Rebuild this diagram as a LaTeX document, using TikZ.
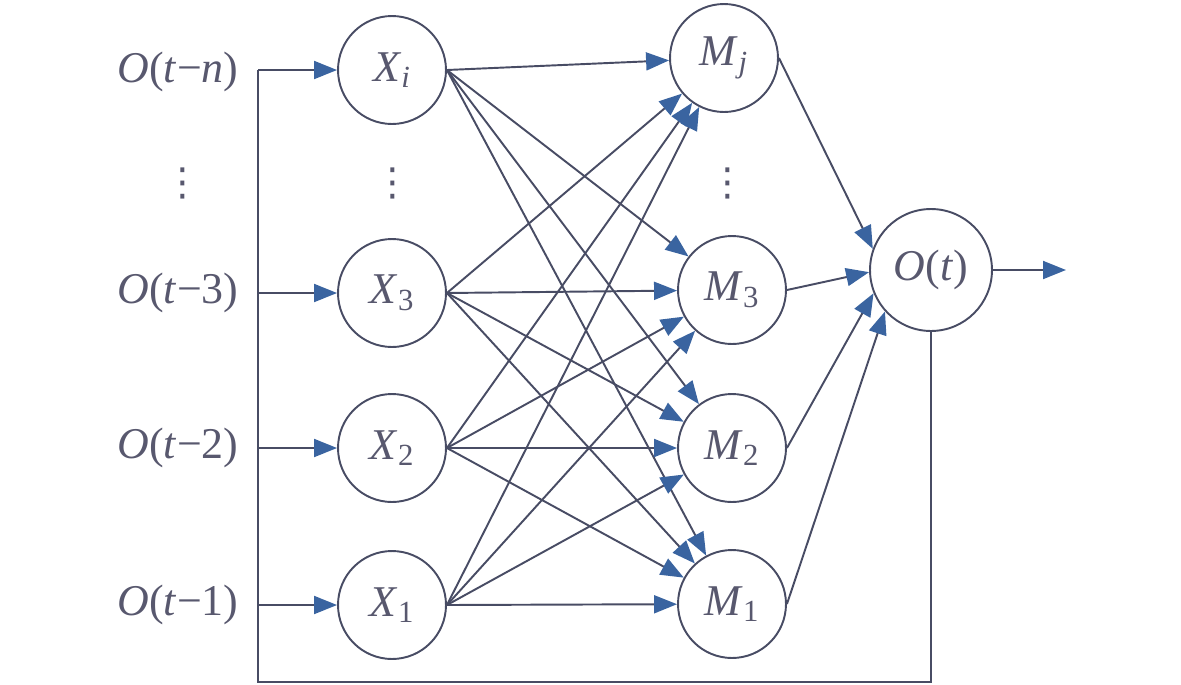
\documentclass[tikz,border=0pt]{standalone}
\usepackage{fontspec}
\setmainfont{Liberation Serif}
\newfontfamily\symfont{DejaVu Sans}
\usetikzlibrary{arrows.meta, positioning}
\definecolor{linegray}{RGB}{72,76,100}
\definecolor{tipblue}{RGB}{58,100,160}
\definecolor{textgray}{RGB}{88,88,110}

\begin{document}
\begin{tikzpicture}[x=0.02cm, y=-0.02cm]
\tikzstyle{main}=[circle, minimum size=2.16cm, inner sep=0pt, line width=1.1pt, draw=linegray, text=textgray, font=\fontsize{25}{30}\selectfont]
\tikzstyle{connect}=[-{Triangle[length=0.46cm, width=0.36cm, color=tipblue]}, line width=1.1pt, draw=linegray]
\tikzstyle{wire}=[line width=1.1pt, draw=linegray]
\tikzstyle{lab}=[text=textgray, font=\fontsize{25}{30}\selectfont]
\tikzstyle{vdots}=[text=textgray, inner sep=0pt, font=\symfont\fontsize{22}{26}\selectfont]
\useasboundingbox (0,0) rectangle (1181,684);
    % inputs
    \node[lab] (Inn) at (178,72) {\textit{O}(\textit{t}−\textit{n})};
    \node[lab] (In3) at (178,293) {\textit{O}(\textit{t}−3)};
    \node[lab] (In2) at (178,448) {\textit{O}(\textit{t}−2)};
    \node[lab] (In1) at (178,605) {\textit{O}(\textit{t}−1)};
    \node[vdots] (Dots1) at (183,183) {⋮};
    % hidden layer
    \node[main] (Xi) at (392,70) {\textit{X}\textsubscript{\textit{i}}};
    \node[main] (X3) at (392,293) {\textit{X}\textsubscript{3}};
    \node[main] (X2) at (392,448) {\textit{X}\textsubscript{2}};
    \node[main] (X1) at (392,605) {\textit{X}\textsubscript{1}};
    \node[vdots] (Dots2) at (393,183) {⋮};
    \node[main] (Mj) at (724,58) {\textit{M}\textsubscript{\textit{j}}};
    \node[main] (M3) at (732,290) {\textit{M}\textsubscript{3}};
    \node[main] (M2) at (732,448) {\textit{M}\textsubscript{2}};
    \node[main] (M1) at (732,604) {\textit{M}\textsubscript{1}};
    \node[vdots] (Dots3) at (728,183) {⋮};
    % output
    \node[main, minimum size=2.44cm] (O) at (931,270) {\textit{O}(\textit{t})};
    \coordinate (out) at (1066,270);
    \coordinate (bn) at (258,70);
    \coordinate (b3) at (258,293);
    \coordinate (b2) at (258,448);
    \coordinate (b1) at (258,605);
    \coordinate (bl) at (258,682);
    \path (bn) edge [connect] (Xi)
          (b3) edge [connect] (X3)
          (b2) edge [connect] (X2)
          (b1) edge [connect] (X1);
    \draw[wire] (O.south) |- (bl) -- (bn);
    \path (Xi.east) edge [connect] (Mj) (Xi.east) edge [connect] (M3) (Xi.east) edge [connect] (M2) (Xi.east) edge [connect] (M1)
          (X3.east) edge [connect] (Mj) (X3.east) edge [connect] (M3) (X3.east) edge [connect] (M2) (X3.east) edge [connect] (M1)
          (X2.east) edge [connect] (Mj) (X2.east) edge [connect] (M3) (X2.east) edge [connect] (M2) (X2.east) edge [connect] (M1)
          (X1.east) edge [connect] (Mj) (X1.east) edge [connect] (M3) (X1.east) edge [connect] (M2) (X1.east) edge [connect] (M1);
    \path (Mj.east) edge [connect] (O.160)
          (M3.east) edge [connect] (O.182)
          (M2.east) edge [connect] (O.202)
          (M1.east) edge [connect] (O.222)
          (O) edge [connect] (out);
\end{tikzpicture}
\end{document}
